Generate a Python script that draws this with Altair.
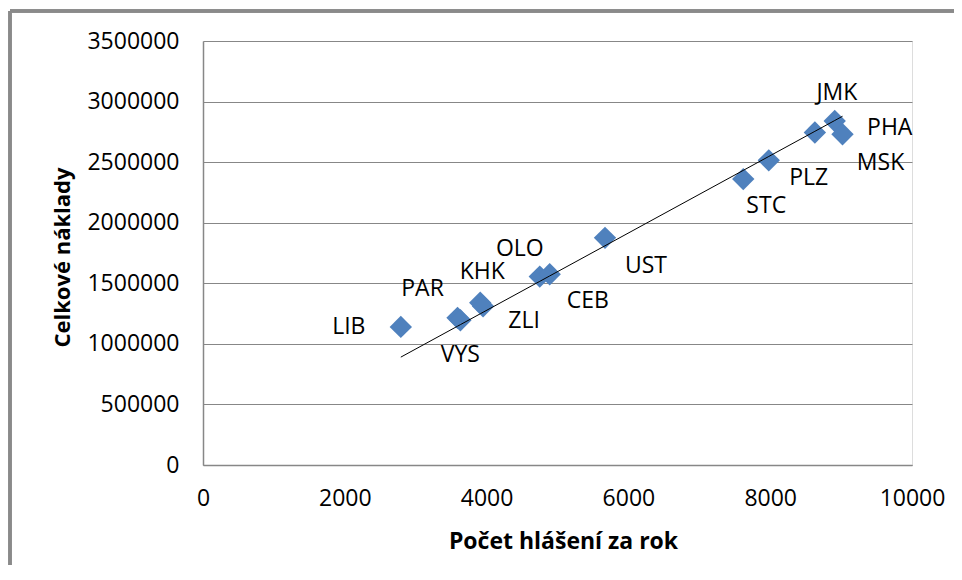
import altair as alt
import pandas as pd

kraje = ["LIB", "PAR", "VYS", "KHK", "ZLI", "OLO", "CEB", "UST", "STC", "PLZ", "JMK", "PHA", "MSK"]
hlaseni = [2790, 3590, 3630, 3910, 3950, 4750, 4890, 5670, 7620, 7980, 8630, 8910, 9020]
naklady = [1140000, 1215000, 1195000, 1340000, 1310000, 1555000, 1575000,
           1875000, 2360000, 2515000, 2745000, 2840000, 2730000]

# label offsets (px) relative to each marker
label_dx = [-52, -35, 0, 2, 41, -20, 38, 41, 23, 40, 22, 55, 38]
label_dy = [0, -29, 35, -31, 15, -28, 27, 28, 27, 18, -39, 7, 29]

df = pd.DataFrame({"kraj": kraje, "hlaseni": hlaseni, "naklady": naklady})

FONT = "Open Sans"
GRAY = "#878787"

xs = alt.Scale(domain=[0, 10000], nice=False)
ys = alt.Scale(domain=[0, 3500000], nice=False)

x_enc = alt.X("hlaseni:Q", scale=xs, axis=alt.Axis(
    title="Počet hlášení za rok", values=[0, 2000, 4000, 6000, 8000, 10000],
    format="d", grid=False, ticks=False, domainColor=GRAY, domainWidth=1.5,
    labelFont=FONT, labelFontSize=23, labelColor="#000000",
    labelBaseline="middle", labelPadding=33, labelFlush=False,
    titleFont=FONT, titleFontSize=23, titleFontWeight="bold", titleColor="#000000",
    titleX=360, titleY=76, titleBaseline="middle", titleAlign="center"))
y_enc = alt.Y("naklady:Q", scale=ys, axis=alt.Axis(
    title="Celkové náklady", values=[0, 500000, 1000000, 1500000, 2000000, 2500000, 3000000, 3500000],
    format="d", grid=True, gridColor=GRAY, gridWidth=1, ticks=False,
    domainColor=GRAY, domainWidth=1.5,
    labelFont=FONT, labelFontSize=23, labelColor="#000000", labelPadding=24,
    labelBaseline="middle", labelFlush=False,
    titleFont=FONT, titleFontSize=22, titleFontWeight="bold", titleColor="#000000",
    titleX=-141, titleY=216, titleAngle=270, titleBaseline="middle", titleAlign="center"))

base = alt.Chart(df)

points = base.mark_point(shape="diamond", filled=True, size=500, color="#4F81BD",
                         opacity=1).encode(x=x_enc, y=y_enc)

# linear trend line with intercept fixed at zero: y = x * sum(xy) / sum(x^2)
trend = base.transform_calculate(
    xy="datum.hlaseni * datum.naklady", xx="datum.hlaseni * datum.hlaseni"
).transform_joinaggregate(
    sxy="sum(xy)", sxx="sum(xx)"
).transform_calculate(
    fit="datum.hlaseni * datum.sxy / datum.sxx"
).mark_line(color="#000000", strokeWidth=1).encode(
    x=alt.X("hlaseni:Q", scale=xs), y=alt.Y("fit:Q", scale=ys), order="hlaseni:Q")

label_layers = []
for k, ddx, ddy in zip(kraje, label_dx, label_dy):
    label_layers.append(
        base.transform_filter(alt.datum.kraj == k).mark_text(
            font=FONT, fontSize=23, color="#000000", align="center",
            baseline="middle", dx=ddx, dy=ddy).encode(
            x=alt.X("hlaseni:Q", scale=xs), y=alt.Y("naklady:Q", scale=ys),
            text="kraj:N"))

frame_left = alt.Chart(df).mark_rule(color="#8a8a8a", strokeWidth=2.5).encode(
    x=alt.value(-193), y=alt.value(-30), y2=alt.value(700))
frame_top = alt.Chart(df).mark_rule(color="#8a8a8a", strokeWidth=2.5).encode(
    x=alt.value(-193), x2=alt.value(900), y=alt.value(-30))

chart = alt.layer(frame_left, frame_top, points, trend, *label_layers).properties(
    width=709, height=424,
    autosize=alt.AutoSizeParams(type="none"),
    padding={"left": 195, "top": 33, "right": 42, "bottom": 100},
).configure_view(stroke=None).configure(background="#ffffff")

chart.save("out.html", embed_options={"renderer": "svg", "actions": False})
